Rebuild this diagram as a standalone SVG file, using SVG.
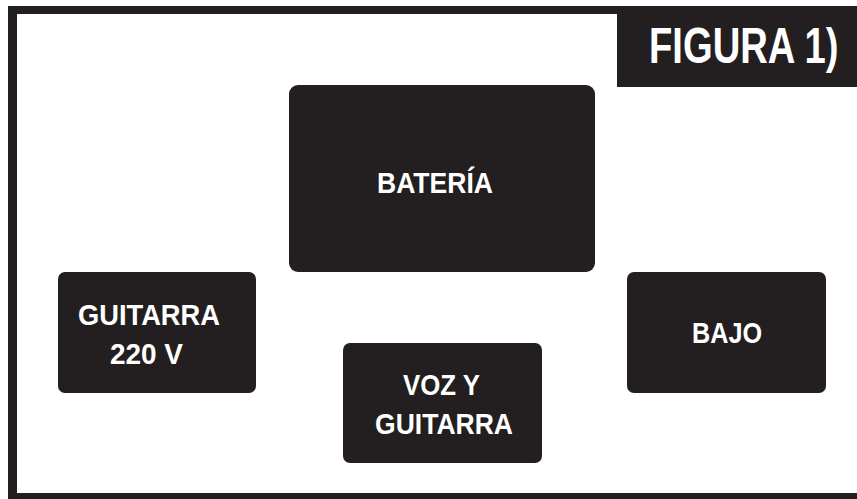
<svg xmlns="http://www.w3.org/2000/svg" width="857" height="499" viewBox="0 0 857 499">
<style>
.box{fill:#231f20;}
.lbl{fill:#ffffff;font-family:"Liberation Sans",Arial,sans-serif;font-weight:bold;font-size:30px;}
.title{fill:#ffffff;font-family:"Liberation Sans",Arial,sans-serif;font-weight:bold;font-size:50px;}
</style>
<rect x="0" y="0" width="857" height="499" fill="#ffffff"/>
<g id="frame">
<rect x="8" y="6" width="849" height="8" class="box"/>
<rect x="8" y="6" width="9" height="493" class="box"/>
<rect x="8" y="493" width="849" height="6" class="box"/>
</g>
<g id="title">
<rect x="617" y="6" width="240" height="81" class="box"/>
<text class="title" transform="translate(649,63) scale(0.764,1)" x="0" y="0">FIGURA 1)</text>
</g>
<g id="connectors"></g>
<g id="bateria">
<rect x="289" y="85" width="306" height="187" rx="9" class="box"/>
<text class="lbl" x="377" y="193" textLength="116" lengthAdjust="spacingAndGlyphs">BATERÍA</text>
</g>
<g id="guitarra220">
<rect x="58" y="272" width="198" height="121" rx="7" class="box"/>
<text class="lbl" x="78" y="325" textLength="142" lengthAdjust="spacingAndGlyphs">GUITARRA</text>
<text class="lbl" x="110" y="364" textLength="73" lengthAdjust="spacingAndGlyphs">220 V</text>
</g>
<g id="vozguitarra">
<rect x="343" y="343" width="199" height="120" rx="7" class="box"/>
<text class="lbl" x="403" y="395" textLength="77" lengthAdjust="spacingAndGlyphs">VOZ Y</text>
<text class="lbl" x="375" y="434" textLength="138" lengthAdjust="spacingAndGlyphs">GUITARRA</text>
</g>
<g id="bajo">
<rect x="627" y="272" width="199" height="121" rx="7" class="box"/>
<text class="lbl" x="692" y="343" textLength="70" lengthAdjust="spacingAndGlyphs">BAJO</text>
</g>
</svg>
